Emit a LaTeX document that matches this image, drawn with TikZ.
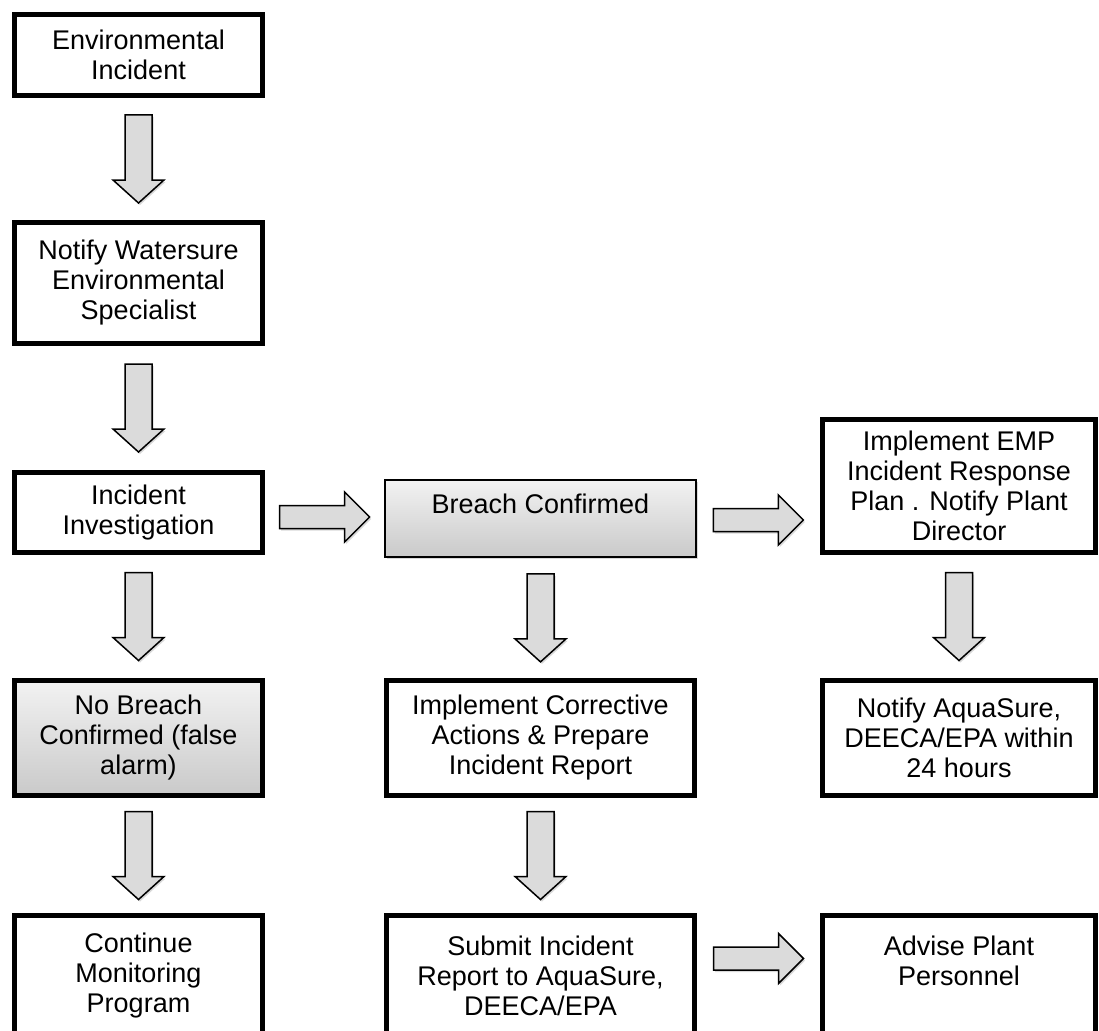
\documentclass[tikz,border=0pt]{standalone}
\usepackage{fontspec}
\setmainfont{Liberation Sans}
\usepackage{tikz}
\usetikzlibrary{calc, shadows}

% block arrows between two named boxes
\newcommand{\downblock}[2]{%
  \path[blockarrow] let \p1=($(#1.south)!0.5!(#2.north)$) in
    (\x1-13.5pt,\y1+44pt) -- (\x1+13.5pt,\y1+44pt) -- (\x1+13.5pt,\y1-21pt)
    -- (\x1+25.5pt,\y1-21pt) -- (\x1,\y1-44pt) -- (\x1-25.5pt,\y1-21pt)
    -- (\x1-13.5pt,\y1-21pt) -- cycle;}
\newcommand{\rightblock}[3]{%
  \path[blockarrow] let \p1=($(#1.east)!0.5!(#2.west)$), \p2=($(#1.east)+(0,#3)$) in
    (\x1-45pt,\y2+11.5pt) -- (\x1+20pt,\y2+11.5pt) -- (\x1+20pt,\y2+25pt)
    -- (\x1+45pt,\y2) -- (\x1+20pt,\y2-25pt) -- (\x1+20pt,\y2-11.5pt)
    -- (\x1-45pt,\y2-11.5pt) -- cycle;}

\begin{document}
\begin{tikzpicture}[x=1pt, y=-1pt,
    flowbox/.style={draw, line width=5pt, fill=white, align=center, inner sep=0pt,
      font=\fontsize{27}{30}\selectfont,
      drop shadow={shadow xshift=1.5pt, shadow yshift=-2pt, opacity=0.3}},
    shadebox/.style={flowbox, top color=gray!10, bottom color=gray!42},
    leftcol/.style={minimum width=248pt},
    midcol/.style={minimum width=308pt},
    rightcol/.style={minimum width=273pt},
    blockarrow/.style={draw, line width=1.5pt, fill=gray!28, line join=miter,
      drop shadow={shadow xshift=1.5pt, shadow yshift=-2pt, opacity=0.3}}]
    \useasboundingbox (0,0) rectangle (1099,1030);
    \clip (0,0) rectangle (1099,1030);

    % left column
    \node[flowbox, leftcol, minimum height=81pt] (envinc) at (138.5,55) {Environmental\\Incident};
    \node[flowbox, leftcol, minimum height=121pt] (notifyspec) at (138.5,283) {Notify Watersure\\Environmental\\Specialist};
    \node[flowbox, leftcol, minimum height=80pt] (invest) at (138.5,512.5) {Incident\\Investigation};
    \node[shadebox, leftcol, minimum height=115pt] (nobreach) at (138.5,738) {No Breach\\Confirmed (false\\alarm)};
    \node[flowbox, leftcol, minimum height=120pt] (contmon) at (138.5,975.5) {Continue\\Monitoring\\Program};

    % middle column
    \node[shadebox, line width=1.5pt, minimum width=311pt, minimum height=77pt] (breach) at (540.5,518.5) {Breach Confirmed\\~};
    \node[flowbox, midcol, minimum height=115pt] (corrective) at (540.5,738) {Implement Corrective\\Actions \& Prepare\\Incident Report};
    \node[flowbox, midcol, minimum height=120pt] (submit) at (540.5,975.5) {Submit Incident\\Report to AquaSure,\\DEECA/EPA};

    % right column
    \node[flowbox, rightcol, minimum height=133pt] (emp) at (959,486) {Implement EMP\\Incident Response\\Plan . Notify Plant\\Director};
    \node[flowbox, rightcol, minimum height=115pt] (notifyaqua) at (959,738) {Notify AquaSure,\\DEECA/EPA within\\24 hours};
    \node[flowbox, rightcol, minimum height=120pt] (advise) at (959,975.5) {Advise Plant\\Personnel\\~};

    \downblock{envinc}{notifyspec}
    \downblock{notifyspec}{invest}
    \downblock{invest}{nobreach}
    \downblock{nobreach}{contmon}
    \downblock{breach}{corrective}
    \downblock{corrective}{submit}
    \downblock{emp}{notifyaqua}
    \rightblock{invest}{breach}{4.5}
    \rightblock{breach}{emp}{1.5}
    \rightblock{submit}{advise}{-17}
\end{tikzpicture}
\end{document}
